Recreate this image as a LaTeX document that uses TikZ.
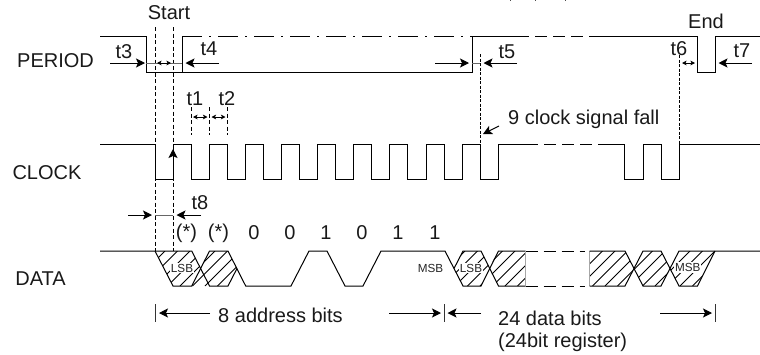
\documentclass[tikz,border=0pt]{standalone}
\usepackage{fontspec}
\setmainfont{Liberation Sans}
\usetikzlibrary{arrows.meta}
\newcommand{\bigf}{\fontsize{20}{22}\selectfont}
\newcommand{\smallf}{\fontsize{11.7}{13}\selectfont}
\tikzset{
  wave/.style={line width=1pt,line join=miter,black},
  dim/.style={line width=1pt,-{Stealth[length=9pt,width=9pt,inset=2pt]}},
  tiny/.style={line width=.8pt,{Stealth[length=4.5pt,width=4.5pt,inset=1pt]}-{Stealth[length=4.5pt,width=4.5pt,inset=1pt]}},
  guide/.style={line width=.9pt,dash pattern=on 4pt off 2.5pt},
  thin link/.style={line width=.7pt,black!60},
  hatchline/.style={line width=.9pt},
  lbl/.style={font=\bigf,inner sep=0pt,text=black!90},
  bit/.style={font=\smallf,inner sep=1pt,fill=white,text=black!85},
  tick/.style={line width=.9pt,black!80},
}
\begin{document}
\begin{tikzpicture}[x=1pt,y=-1pt]
\useasboundingbox (0,0) rectangle (760,354);
% residue of clipped text at top edge
\foreach \q in {510,535,565}{\draw[line width=.8pt,black!70] (\q,0) -- (\q,1);}
% signal names
\node[lbl] (nperiod) at (55.5,61) {PERIOD};
\node[lbl] (nclock) at (47,173) {CLOCK};
\node[lbl] (ndata) at (40.5,279) {DATA};
\node[lbl] (nstart) at (169,13) {Start};
\node[lbl] (nend) at (706,21) {End};
% PERIOD
\draw[wave] (100,36) -- (146,36) -- (146,72) -- (472,72) -- (472,36);
\draw[wave] (182.3,72) -- (182.3,36);
\draw[wave,dash pattern=on 20pt off 7pt on 2pt off 7pt] (182.3,36) -- (472,36);
\draw[wave] (472,36) -- (517,36);
\draw[wave,dash pattern=on 12pt off 6pt] (517,36) -- (600,36);
\draw[wave] (590,36) -- (697,36) -- (697,72) -- (715,72) -- (715,36) -- (760,36);
% CLOCK
\draw[wave] (100,144) -- (155,144) -- (155,179.5) -- (173,179.5) -- (173,144) -- (191,144)
  -- (191,179.5) -- (209.3,179.5) -- (209.3,144) -- (227.3,144)
  -- (227.3,179.5) -- (245.5,179.5) -- (245.5,144) -- (263.4,144)
  -- (263.4,179.5) -- (281.5,179.5) -- (281.5,144) -- (299.5,144)
  -- (299.5,179.5) -- (317.5,179.5) -- (317.5,144) -- (335.5,144)
  -- (335.5,179.5) -- (353.7,179.5) -- (353.7,144) -- (371.7,144)
  -- (371.7,179.5) -- (389.8,179.5) -- (389.8,144) -- (407.8,144)
  -- (407.8,179.5) -- (426,179.5) -- (426,144) -- (444,144)
  -- (444,179.5) -- (462.3,179.5) -- (462.3,144) -- (480,144)
  -- (480,179.5) -- (498.3,179.5) -- (498.3,144) -- (526,144);
\draw[wave,dash pattern=on 12pt off 6pt] (526,144) -- (606,144);
\draw[wave] (606,144) -- (624.5,144) -- (624.5,179.5) -- (643,179.5) -- (643,144) -- (661,144)
  -- (661,179.5) -- (679.5,179.5) -- (679.5,144) -- (760,144);
% guides
\draw[guide] (155,27) -- (155,251);
\draw[guide] (173,27) -- (173,251);
\draw[guide] (191,107) -- (191,135);
\draw[guide] (209.5,107) -- (209.5,135);
\draw[guide] (227.5,107) -- (227.5,135);
\draw[guide,dash pattern=on 3pt off 1.5pt] (480,54) -- (480,144);
\draw[guide,dash pattern=on 3pt off 1.5pt] (679,55) -- (679,144);
% hatching
\begin{scope}
\clip (155,251) -- (191.7,251) -- (209.5,286) -- (173,286) -- cycle
      (200.5,268.5) -- (210,251) -- (228,251) -- (237,268.5) -- (228,286) -- (209.5,286) -- cycle
      (454,268.5) -- (463,251) -- (481,251) -- (490,268.5) -- (481,286) -- (463,286) -- cycle
      (489,268.5) -- (498,251) -- (525.5,251) -- (525.5,286) -- (498,286) -- cycle
      (589.5,251) -- (625,251) -- (634,268.5) -- (625,286) -- (589.5,286) -- cycle
      (634,268.5) -- (643,251) -- (661,251) -- (670,268.5) -- (661,286) -- (643,286) -- cycle
      (670,268.5) -- (679,251) -- (715,251) -- (697,286) -- (679,286) -- cycle;
\foreach \c in {165,177.5,...,740}{\draw[hatchline] (\c,251) -- (\c-35,286);}
\end{scope}
% DATA
\draw[wave] (100,251) -- (155,251) -- (173,286) -- (191.7,286) -- (209.5,251) -- (228,251) -- (245.7,286) -- (291,286) -- (309,251) -- (327,251) -- (345,286) -- (363,286) -- (381,251) -- (445,251) -- (463,286) -- (481,286) -- (498.5,251) -- (525.5,251);
\draw[wave] (155,251) -- (191.7,251) -- (209.5,286) -- (228,286) -- (237,268.5);
\draw[wave] (454,268.5) -- (463,251) -- (481,251) -- (498.5,286) -- (525.5,286);
\draw[wave,dash pattern=on 12pt off 6pt] (525.5,251) -- (585,251);
\draw[wave,dash pattern=on 12pt off 6pt] (525.5,286) -- (585,286);
\draw[line width=.7pt,black!35] (525.5,251) -- (525.5,286);
\draw[line width=.7pt,black!35] (589.5,251) -- (589.5,286);
\draw[wave] (589.5,251) -- (625,251) -- (643,286) -- (661,286) -- (679,251) -- (760,251);
\draw[wave] (589.5,286) -- (625,286) -- (643,251) -- (661,251) -- (679,286) -- (697.5,286) -- (715,251);
% bit labels
\node[bit] (lsba) at (182,268) {LSB};
\node[bit,fill=none] (msba) at (430.5,268) {MSB};
\node[bit] (lsbb) at (471,268) {LSB};
\node[bit] (msbb) at (687.7,267.5) {MSB};
\node[lbl] (b1) at (186.5,233) {(*)};
\node[lbl] (b2) at (218.5,233) {(*)};
\node[lbl] (b3) at (254,233) {0};
\node[lbl] (b4) at (290,233) {0};
\node[lbl] (b5) at (326,233) {1};
\node[lbl] (b6) at (362,233) {0};
\node[lbl] (b7) at (398,233) {1};
\node[lbl] (b8) at (435,233) {1};
% timing labels
\node[lbl] (t3) at (124,52) {t3};
\node[lbl] (t4) at (209,49) {t4};
\node[lbl] (t5) at (507,52) {t5};
\node[lbl] (t6) at (679,49) {t6};
\node[lbl] (t7) at (742,51) {t7};
\node[lbl] (t1) at (195,99) {t1};
\node[lbl] (t2) at (227,99) {t2};
\node[lbl] (t8) at (200,203) {t8};
\node[lbl,anchor=west] (fall) at (508,119) {9 clock signal fall};
\node[lbl] (addr) at (280.5,315.5) {8 address bits};
\node[lbl,anchor=west] (databits) at (498,318) {24 data bits};
\node[lbl,anchor=west] (reg) at (498,342) {(24bit register)};
% dimension arrows
\draw[dim] (110,63) -- (145,63);
\draw[thin link] (146,63) -- (182,63);
\draw[tiny] (157,63) -- (171,63);
\draw[dim] (219,63) -- (185.5,63);
\draw[dim] (435,63) -- (469,63);
\draw[thin link] (472,63) -- (480,63);
\draw[dim] (517,63) -- (483.5,63);
\draw[tiny] (682,63) -- (695,63);
\draw[dim] (752,63) -- (718.5,63);
\draw[tiny] (193,117) -- (207.5,117);
\draw[tiny] (211.5,117) -- (225.5,117);
\draw[dim] (173,179) -- (173,149);
\draw[dim] (128,215) -- (152,215);
\draw[thin link] (155,215) -- (173,215);
\draw[dim] (201,215) -- (176.5,215);
\draw[dim] (499,126) -- (483,134);
% span arrows
\draw[tick] (155,304) -- (155,322);
\draw[tick] (444,304) -- (444,322);
\draw[tick] (715,304) -- (715,322);
\draw[dim] (210,313) -- (159,313);
\draw[dim] (389,313) -- (441,313);
\draw[dim] (481,313) -- (447.5,313);
\draw[dim] (660,313) -- (712,313);
\end{tikzpicture}
\end{document}
